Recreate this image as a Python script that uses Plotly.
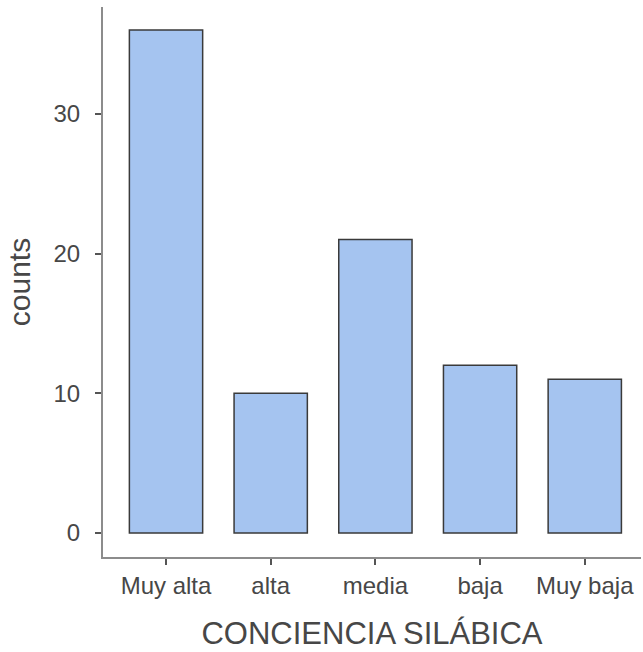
import plotly.graph_objects as go

categories = ["Muy alta", "alta", "media", "baja", "Muy baja"]
counts = [36, 10, 21, 12, 11]
y_ticks = [0, 10, 20, 30]

fig = go.Figure()
fig.add_trace(go.Bar(
    x=categories, y=counts, width=0.7,
    marker=dict(color="#a5c4f0", line=dict(color="#3a3a3a", width=1.5)),
))

font_family = "Liberation Sans, Arial, sans-serif"
text_color = "#474747"
fig.update_layout(
    width=643, height=652,
    margin=dict(l=103, r=2, t=7, b=95),
    plot_bgcolor="white", paper_bgcolor="white",
    showlegend=False,
    font=dict(family=font_family, color=text_color),
)
fig.update_xaxes(
    range=[-0.602, 4.537], showline=True, linecolor="#8c8c8c", linewidth=2,
    ticks="outside", ticklen=6, tickcolor="#555555", tickwidth=2,
    tickfont=dict(size=24, color=text_color), showgrid=False, zeroline=False,
    title=dict(text="CONCIENCIA SILÁBICA", font=dict(size=31, color=text_color), standoff=25),
)
fig.update_yaxes(
    range=[-1.72, 37.65], showline=True, linecolor="#8c8c8c", linewidth=2,
    tickvals=y_ticks, ticks="outside", ticklen=6, tickcolor="#555555", tickwidth=2,
    tickfont=dict(size=24, color=text_color), showgrid=False, zeroline=False,
    ticklabelstandoff=10,
    title=dict(text="counts", font=dict(size=30, color=text_color), standoff=14),
)

fig.write_html("out.html", config={"displayModeBar": False},
               post_script="document.body.style.margin='0';")
